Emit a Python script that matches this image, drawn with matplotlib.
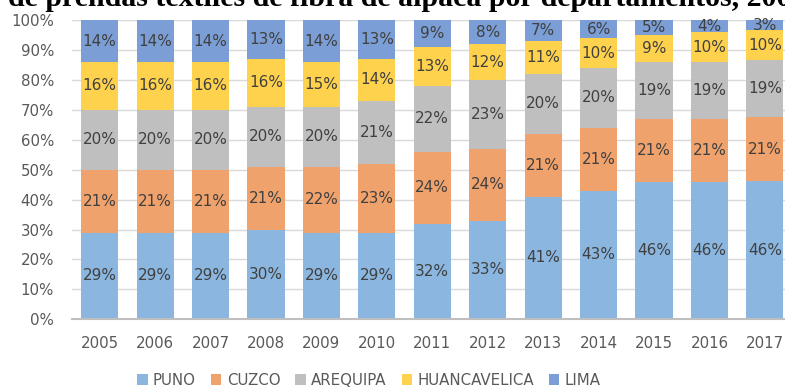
import matplotlib
matplotlib.use('Agg')
import matplotlib.pyplot as plt
import numpy as np

years = ['2005', '2006', '2007', '2008', '2009', '2010', '2011', '2012',
         '2013', '2014', '2015', '2016', '2017']
puno = [29, 29, 29, 30, 29, 29, 32, 33, 41, 43, 46, 46, 46.2]
cuzco = [21, 21, 21, 21, 22, 23, 24, 24, 21, 21, 21, 21, 21.3]
arequipa = [20, 20, 20, 20, 20, 21, 22, 23, 20, 20, 19, 19, 19.1]
huancavelica = [16, 16, 16, 16, 15, 14, 13, 12, 11, 10, 9, 10, 10.1]
lima = [14, 14, 14, 13, 14, 13, 9, 8, 7, 6, 5, 4, 3.3]

names = ['PUNO', 'CUZCO', 'AREQUIPA', 'HUANCAVELICA', 'LIMA']
colors = ['#8AB6E0', '#F0A26C', '#BFBFBF', '#FFD24D', '#7B9ED6']
series = [puno, cuzco, arequipa, huancavelica, lima]

plt.rcParams['font.family'] = 'DejaVu Sans'

fig = plt.figure(figsize=(7.85, 3.87), dpi=100)
ax = fig.add_axes([0.0917, 0.175, 0.918, 0.773])

x = np.arange(len(years))
bottom = np.zeros(len(years))
for name, col, vals in zip(names, colors, series):
    vals = np.array(vals, dtype=float)
    ax.bar(x, vals / 100, 0.67, bottom=bottom / 100, color=col, label=name, zorder=2)
    for xi, b, v in zip(x, bottom, vals):
        ax.text(xi, (b + v / 2) / 100, '%d%%' % round(v), ha='center', va='center',
                fontsize=11, color='#404040', zorder=3)
    bottom += vals

ax.set_xlim(-0.5, len(years) - 0.5)
ax.set_ylim(0, 1)
ax.set_yticks(np.arange(0, 1.01, 0.1))
ax.set_yticklabels(['%d%%' % v for v in range(0, 101, 10)])
ax.set_xticks(x)
ax.set_xticklabels(years)
ax.tick_params(axis='both', length=0, labelsize=10.8, labelcolor='#595959')
ax.tick_params(axis='y', pad=13)
ax.tick_params(axis='x', pad=12)
ax.grid(axis='y', color='#D9D9D9', linewidth=1, zorder=0)
for s in ['top', 'right', 'left']:
    ax.spines[s].set_visible(False)
ax.spines['bottom'].set_color('#BFBFBF')
ax.spines['bottom'].set_linewidth(1.5)
ax.spines['bottom'].set_zorder(4)

leg = fig.legend(loc='center', bbox_to_anchor=(0.47, 0.017), ncol=5, frameon=False,
                 handlelength=0.7, handleheight=0.7, columnspacing=1.0, handletextpad=0.35,
                 fontsize=10.8)
for t in leg.get_texts():
    t.set_color('#595959')

# titulo cortado arriba, como en la imagen original
fig.text(0.01, 0.9845, 'de prendas textiles de fibra de alpaca por departamentos, 2005-2017',
         ha='left', va='baseline', fontsize=21.5, fontweight='bold', family='Liberation Serif')

fig.savefig('out.png', dpi=100)
